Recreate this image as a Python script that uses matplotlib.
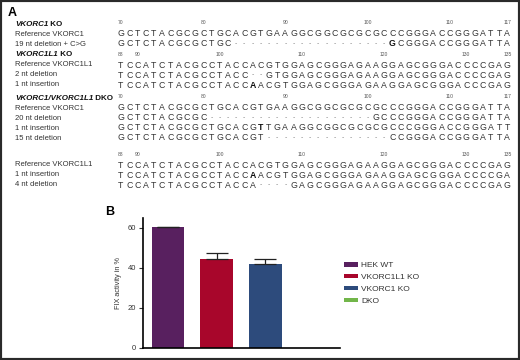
import numpy as np
import matplotlib.pyplot as plt
from matplotlib.patches import Rectangle, Patch

plt.rcParams['font.family'] = ['Liberation Sans', 'DejaVu Sans']

# ---- panel A: sequence alignments ----
ref_c1 = "GCTCTACGCGCTGCACGTGAAGGCGGCGCGCGCCCGGGACCGGGATTA"
ref_l1 = "TCCATCTACGCCTACCACGTGGAGCGGGAGAAGGAGCGGGACCCCGAG"
ruler_c1 = [70, 80, 90, 100, 110, 117]
ruler_l1 = [88, 90, 100, 110, 120, 130, 135]

# (italic part, upright part), ruler start, ruler ticks, rows (label, sequence, bold index)
blocks = [
    (("VKORC1", " KO"), 70, ruler_c1, [
        ("Reference VKORC1", ref_c1, None),
        ("19 nt deletion + C>G", "GCTCTACGCGCTGC" + "-" * 19 + "GCGGGACCGGGATTA", 33),
    ]),
    (("VKORC1L1", " KO"), 88, ruler_l1, [
        ("Reference VKORC1L1", ref_l1, None),
        ("2 nt deletion", "TCCATCTACGCCTACC--GTGGAGCGGGAGAAGGAGCGGGACCCCGAG", None),
        ("1 nt insertion", "TCCATCTACGCCTACCAACGTGGAGCGGGAGAAGGAGCGGGACCCGAG", 16),
    ]),
    (("VKORC1/VKORC1L1", " DKO"), 70, ruler_c1, [
        ("Reference VKORC1", ref_c1, None),
        ("20 nt deletion", "GCTCTACGCGC" + "-" * 20 + "GCCCGGGACCGGGATTA", None),
        ("1 nt insertion", "GCTCTACGCGCTGCACGTTGAAGGCGGCGCGCGCCCGGGACCGGGATT", 17),
        ("15 nt deletion", "GCTCTACGCGCTGCACGT" + "-" * 15 + "CCGGGACCGGGATTA", None),
    ]),
    (None, 88, ruler_l1, [
        ("Reference VKORC1L1", ref_l1, None),
        ("1 nt insertion", "TCCATCTACGCCTACCAACGTGGAGCGGGAGAAGGAGCGGGACCCCGA", 16),
        ("4 nt deletion", "TCCATCTACGCCTACCA----GAGCGGGAGAAGGAGCGGGACCCCGAG", None),
    ]),
]
block_y = [24, 55, 98, 155]

# ---- panel B: FIX activity ----
groups = ["HEK WT", "VKORC1L1 KO", "VKORC1 KO", "DKO"]
fix_activity = [60.3, 44.3, 42.0, 0.0]
fix_err = [0.3, 3.0, 2.5, 0.0]
colors = ["#58205f", "#a8062b", "#2d4b7c", "#72b64a"]

fig = plt.figure(figsize=(5.2, 3.6), dpi=100)
axA = fig.add_axes([0, 0, 1, 1])
axA.set_xlim(0, 520)
axA.set_ylim(360, 0)
axA.axis('off')

txt = '#333333'
x0, dx = 121, 8.22
axA.text(8, 13, "A", fontsize=9, fontweight='bold', va='center', ha='left')

for (title, start, ticks, rows), y in zip(blocks, block_y):
    if title is not None:
        t1 = axA.text(15, y, title[0], fontsize=5.8, fontweight='bold', style='italic',
                      va='center', ha='left', color='#111111')
        axA.annotate(title[1], xy=(1, 0.5), xycoords=t1, fontsize=5.8, fontweight='bold',
                     va='center', ha='left', color='#111111')
    for p in ticks:
        axA.text(x0 + (p - start) * dx, y - 1, str(p), fontsize=3.6, ha='center',
                 va='center', color='#555555')
    for k, (label, seq, bold) in enumerate(rows):
        yy = y + 10 * (k + 1)
        axA.text(15, yy, label, fontsize=5.5, va='center', ha='left', color=txt)
        for i, ch in enumerate(seq):
            if ch == '-':
                axA.text(x0 + i * dx, yy, '-', fontsize=5, ha='center', va='center',
                         color='#888888')
            else:
                axA.text(x0 + i * dx, yy, ch, fontsize=6.3, ha='center', va='center',
                         color='#111111' if i == bold else txt,
                         fontweight='bold' if i == bold else 'normal')

axA.text(110, 212, "B", fontsize=9, fontweight='bold', va='center', ha='center')

axB = fig.add_axes([143 / 520, 12 / 360, 197 / 520, 130 / 360])
xpos = np.arange(len(groups))
axB.bar(xpos, fix_activity, width=0.67, color=colors, zorder=2)
axB.errorbar(xpos[:3], fix_activity[:3], yerr=[np.zeros(3), fix_err[:3]], fmt='none',
             ecolor='#222222', elinewidth=0.9, capsize=8, capthick=0.9, zorder=3)
axB.set_xlim(-0.51, 3.53)
axB.set_ylim(0, 65)
axB.set_yticks([0, 20, 40, 60])
axB.set_xticks([])
axB.tick_params(axis='y', labelsize=5.5, length=3, width=0.8, pad=2, colors='#333333')
for s in ['top', 'right']:
    axB.spines[s].set_visible(False)
for s in ['left', 'bottom']:
    axB.spines[s].set_linewidth(1.2)
axB.set_ylabel("FIX activity in %", fontsize=5.3, labelpad=4, color='#333333')

handles = [Patch(facecolor=c, edgecolor='none') for c in colors]
fig.legend(handles, groups, loc='upper left', bbox_to_anchor=(340 / 520, 1 - 258 / 360),
           frameon=False, fontsize=6, handlelength=1.7, handleheight=0.45,
           handletextpad=0.35, labelspacing=0.55, borderpad=0, labelcolor='#333333')

fig.add_artist(Rectangle((0, 0), 1, 1, transform=fig.transFigure, fill=False,
                         edgecolor='#2a2a2a', linewidth=3))

fig.savefig("out.png", dpi=100)
